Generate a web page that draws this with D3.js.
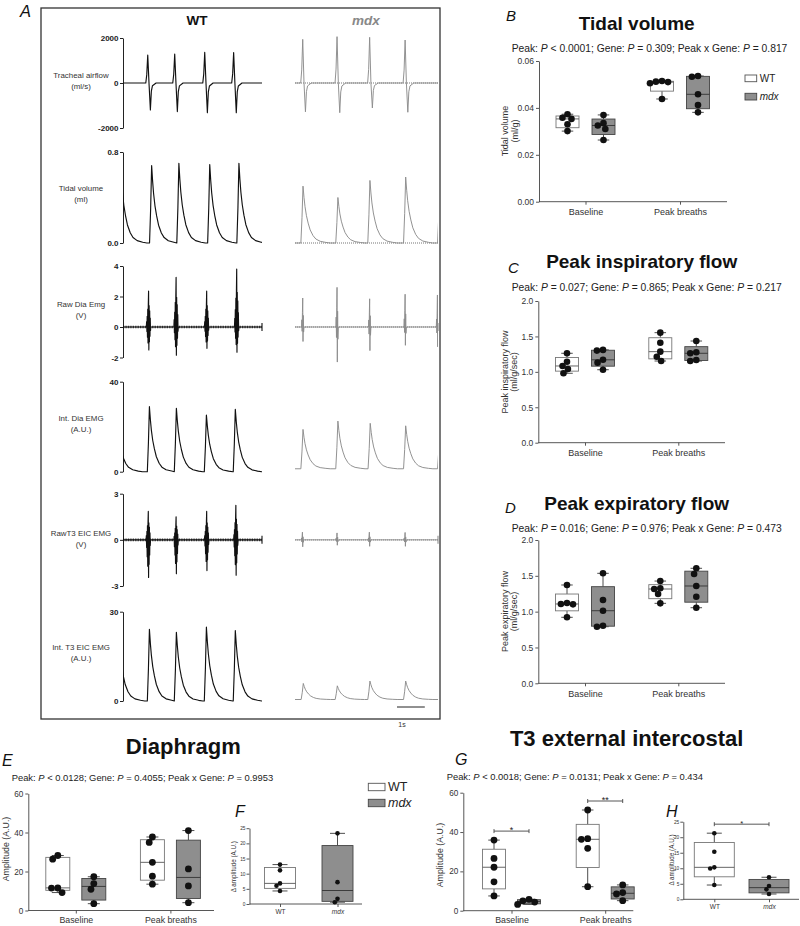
<!DOCTYPE html>
<html>
<head>
<meta charset="utf-8">
<script src="https://cdn.jsdelivr.net/npm/d3@7/dist/d3.min.js"></script>
<style>
  body { margin: 0; background: #fff; }
  svg { display: block; }
  text { white-space: pre; }
</style>
</head>
<body>
<svg id="figure" width="800" height="926"></svg>
<script>
// ---------- Panel A: recorded traces (event time in s, peak value in trace units) ----------
const wtFlowT = [0.89, 1.86, 2.94, 3.98];
const wtFlowUp = [1240, 1290, 1360, 1350];
const wtFlowDown = [-1200, -1270, -1320, -1320];
const wtVolT = [-0.09, 1.03, 2.01, 3.12, 4.17];
const wtVol = [0.69, 0.68, 0.70, 0.69, 0.70];
const wtRawDiaT = [0.92, 1.91, 3.01, 4.09];
const wtRawDiaUp = [2.35, 3.25, 2.35, 3.8];
const wtRawDiaDown = [-1.5, -1.85, -1.4, -1.65];
const wtIntDiaT = [-0.25, 0.95, 1.92, 3.0, 4.04];
const wtIntDia = [28, 28.9, 28.2, 25.2, 27.7];
const wtRawEicT = [0.91, 1.91, 3.01, 4.06];
const wtRawEicUp = [1.85, 1.5, 1.85, 2.25];
const wtRawEicDown = [-2.45, -2.2, -2.0, -2.3];
const wtIntEicT = [-0.17, 0.95, 1.92, 3.0, 4.04];
const wtIntEic = [24, 24.1, 23.1, 24.8, 23.7];

const mdxFlowT = [0.27, 1.47, 2.61, 3.85];
const mdxFlowUp = [1940, 2060, 2030, 1910];
const mdxFlowDown = [-1280, -1320, -1110, -1300];
const mdxVolT = [0.28, 1.50, 2.62, 3.87, 5.06];
const mdxVol = [0.50, 0.40, 0.55, 0.58, 0.50];
const mdxRawDiaT = [0.27, 1.47, 2.61, 3.85, 4.98];
const mdxRawDiaUp = [1.9, 2.6, 1.85, 2.15, 2.1];
const mdxRawDiaDown = [-0.95, -2.3, -1.55, -1.2, -1.3];
const mdxIntDiaT = [0.28, 1.50, 2.63, 3.87, 5.06];
const mdxIntDia = [17.5, 21.2, 20.2, 19.1, 17];   // above a 1.3 baseline
const mdxRawEicT = [0.26, 1.47, 2.60, 3.85];
const mdxRawEicUp = [0.5, 0.45, 0.5, 0.48];
const mdxRawEicDown = [-0.45, -0.35, -0.42, -0.42];
const mdxIntEicT = [0.29, 1.48, 2.62, 3.87];
const mdxIntEic = [5.4, 4.6, 6.2, 6.2];          // above a 0.5 baseline

// single-breath shapes: [s from peak, share of up peak, share of down peak]
const flowShape = [[-0.07,0,0],[-0.035,0.3,0],[0,1,0],[0.045,0,0],[0.095,0,1],[0.13,0,0.3],[0.17,0,0.1],[0.3,0,0]];
const slowShape = [[-0.075,0,0],[-0.035,0.45,0],[0,1,0],[0.035,0.8,0],[0.07,0.64,0],[0.12,0.48,0],[0.18,0.35,0],
  [0.25,0.23,0],[0.35,0.13,0],[0.45,0.07,0],[0.6,0.03,0],[0.8,0.01,0],[0.95,0,0]];
const burstShape = [[-0.08,0,0],[-0.07,0.15,0],[-0.06,0,0.2],[-0.05,0.3,0],[-0.04,0,0.45],[-0.03,0.5,0],[-0.02,0,0.7],
  [-0.01,0.62,0],[0,1,0],[0.01,0,1],[0.02,0.6,0],[0.03,0,0.65],[0.04,0.45,0],[0.05,0,0.4],[0.06,0.25,0],[0.07,0,0.15],[0.08,0,0]];
const spikeShape = [[-0.04,0,0],[-0.03,0.25,0],[-0.02,0,0.3],[-0.01,0.5,0],[0,1,0],[0.01,0,1],[0.02,0.4,0],[0.03,0,0.35],[0.045,0,0]];

// ---------- Panels B-H: individual animals ----------
const conditions = ["Baseline", "Peak breaths"];
const genotypes = ["WT", "mdx"];

const tvWT = [[0.0373, 0.0358, 0.0353, 0.0330, 0.0301], [0.0515, 0.0512, 0.0510, 0.0505, 0.0438]];
const tvMdx = [[0.0370, 0.0335, 0.0325, 0.0310, 0.0263], [0.0536, 0.0533, 0.0458, 0.0412, 0.0381]];
const pifWT = [[1.262, 1.143, 1.083, 1.04, 0.98], [1.553, 1.41, 1.285, 1.214, 1.153]];
const pifMdx = [[1.31, 1.30, 1.17, 1.13, 1.03], [1.435, 1.276, 1.262, 1.167, 1.153]];
const pefWT = [[1.372, 1.12, 1.107, 1.102, 0.921], [1.427, 1.326, 1.316, 1.246, 1.116]];
const pefMdx = [[1.535, 1.162, 1.013, 0.804, 0.79], [1.605, 1.525, 1.358, 1.209, 1.055]];
const diaWT = [[28.2, 26.3, 11.6, 11.5, 9.2], [37.7, 34.9, 24.7, 17.6, 13.5]];
const diaMdx = [[17.3, 13.8, 10.9, 3.5], [41, 21.3, 12.6, 4.0]];
const diaDeltaWT = [13.0, 11.1, 6.8, 6.0, 4.3];
const diaDeltaMdx = [23.3, 7.2, 1.7, 0.6];
const eicWT = [[35.9, 26.6, 22.1, 14.7, 7.5], [51.2, 36.6, 36.3, 31.7, 12.2]];
const eicMdx = [[5.8, 5.0, 4.4, 3.2], [13.1, 9.2, 8.5, 5.1]];
const eicDeltaWT = [21.3, 15.3, 10.3, 9.9, 4.6];
const eicDeltaMdx = [7.1, 4.3, 3.2, 1.7];

const tvStats = ["< 0.0001", "= 0.309", "= 0.817"];
const pifStats = ["= 0.027", "= 0.865", "= 0.217"];
const pefStats = ["= 0.016", "= 0.976", "= 0.473"];
const diaStats = ["< 0.0128", "= 0.4055", "= 0.9953"];
const eicStats = ["< 0.0018", "= 0.0131", "= 0.434"];
const eicStars = ["*", "**"];
const eicDeltaStar = "*";

// ---------------------------------------------------------------
const svg = d3.select("#figure");
const font = '"Liberation Sans", Arial, Helvetica, sans-serif';
svg.attr("font-family", font);

function label(x, y, text, size, o = {}) {
  return svg.append("text").attr("x", x).attr("y", y).attr("font-size", size)
    .attr("text-anchor", o.anchor || "start")
    .attr("font-weight", o.weight || "normal")
    .attr("font-style", o.style || "normal")
    .attr("fill", o.fill || "#111")
    .attr("transform", o.rotate ? `rotate(-90,${x},${y})` : null)
    .text(text);
}

function statsLine(x, y, size, vals, anchor) {
  const t = svg.append("text").attr("x", x).attr("y", y).attr("font-size", size)
    .attr("fill", "#222").attr("text-anchor", anchor);
  ["Peak: ", "Gene: ", "Peak x Gene: "].forEach((name, i) => {
    t.append("tspan").text(name);
    t.append("tspan").attr("font-style", "italic").text("P");
    t.append("tspan").text(" " + vals[i] + (i < 2 ? "; " : ""));
  });
}

function styleAxis(a, size) {
  a.attr("font-family", font).attr("font-size", size);
  a.selectAll(".domain, .tick line").attr("stroke", "#444").attr("stroke-width", 0.9);
  a.selectAll(".tick text").attr("fill", "#333");
}

// ---------- Panel A ----------
svg.append("rect").attr("x", 41).attr("y", 8).attr("width", 399).attr("height", 711)
  .attr("fill", "none").attr("stroke", "#333").attr("stroke-width", 1.3);
label(20, 17, "A", 16.5, {style: "italic"});
label(197, 25, "WT", 13.5, {anchor: "middle", weight: "bold"});
label(366, 25, "mdx", 13.5, {anchor: "middle", weight: "bold", style: "italic", fill: "#888"});

const xWT = d3.scaleLinear().domain([0, 5]).range([123, 262]);
const xMdx = d3.scaleLinear().domain([0, 5]).range([295, 438]);

const defs = svg.append("defs");
defs.append("clipPath").attr("id", "clipWT").append("rect")
  .attr("x", xWT(0)).attr("y", 0).attr("width", xWT(5) - xWT(0)).attr("height", 926);
defs.append("clipPath").attr("id", "clipMdx").append("rect")
  .attr("x", xMdx(0)).attr("y", 0).attr("width", xMdx(5) - xMdx(0)).attr("height", 926);

function tracePoints(times, ups, downs, shape, base) {
  let pts = [[-1, base]];
  times.forEach((t0, i) => {
    let next = i < times.length - 1 ? times[i + 1] + shape[0][0] : Infinity;
    shape.forEach(r => {
      let t = t0 + r[0];
      if (t >= next) return;
      pts.push([t, base + r[1] * ups[i] + (downs ? r[2] * downs[i] : 0)]);
    });
  });
  pts.push([6, base]);
  return pts;
}

const traceRows = [
  {name: ["Tracheal airflow", "(ml/s)"], ly: 78, domain: [-2000, 2000], range: [128, 38], ticks: [-2000, 0, 2000], fmt: d => String(d),
   wt: [wtFlowT, wtFlowUp, wtFlowDown, flowShape, 0], mdx: [mdxFlowT, mdxFlowUp, mdxFlowDown, flowShape, 0], kind: "flow"},
  {name: ["Tidal volume", "(ml)"], ly: 191, domain: [0, 0.8], range: [243, 152], ticks: [0, 0.8], fmt: d => d.toFixed(1),
   wt: [wtVolT, wtVol, null, slowShape, 0], mdx: [mdxVolT, mdxVol, null, slowShape, 0], kind: "flow"},
  {name: ["Raw Dia Emg", "(V)"], ly: 307, domain: [-2, 4], range: [357.5, 266], ticks: [-2, 0, 2, 4], fmt: d => String(d),
   wt: [wtRawDiaT, wtRawDiaUp, wtRawDiaDown, burstShape, 0], mdx: [mdxRawDiaT, mdxRawDiaUp, mdxRawDiaDown, spikeShape, 0], kind: "raw"},
  {name: ["Int. Dia EMG", "(A.U.)"], ly: 421, domain: [0, 40], range: [471.7, 381.7], ticks: [0, 40], fmt: d => String(d),
   wt: [wtIntDiaT, wtIntDia, null, slowShape, 0], mdx: [mdxIntDiaT, mdxIntDia, null, slowShape, 1.3], kind: "int"},
  {name: ["RawT3 EIC EMG", "(V)"], ly: 536, domain: [-3, 3], range: [586, 493.7], ticks: [-3, 0, 3], fmt: d => String(d),
   wt: [wtRawEicT, wtRawEicUp, wtRawEicDown, burstShape, 0], mdx: [mdxRawEicT, mdxRawEicUp, mdxRawEicDown, spikeShape, 0], kind: "raw"},
  {name: ["Int. T3 EIC EMG", "(A.U.)"], ly: 650, domain: [0, 30], range: [701, 611.7], ticks: [0, 30], fmt: d => String(d),
   wt: [wtIntEicT, wtIntEic, null, slowShape, 0], mdx: [mdxIntEicT, mdxIntEic, null, slowShape, 0.5], kind: "int"}
];

traceRows.forEach(row => {
  let y = d3.scaleLinear().domain(row.domain).range(row.range);

  svg.append("g").attr("transform", "translate(123,0)")
    .call(d3.axisLeft(y).tickValues(row.ticks).tickSize(3).tickSizeOuter(0).tickPadding(1.5).tickFormat(row.fmt))
    .call(a => {
      styleAxis(a, 8);
      a.selectAll(".domain, .tick line").attr("stroke", "#222").attr("stroke-width", 1);
      a.selectAll(".tick text").attr("font-weight", "bold").attr("fill", "#222");
    });

  label(81, row.ly, row.name[0], 7.9, {anchor: "middle", fill: "#333"});
  label(81, row.ly + 11, row.name[1], 7.9, {anchor: "middle", fill: "#333"});

  [[row.wt, xWT, "#111", "clipWT", 0], [row.mdx, xMdx, "#8c8c8c", "clipMdx", 1]].forEach(([d, x, color, clip, k]) => {
    let pts = tracePoints(d[0], d[1], d[2], d[3], d[4]);
    let line = d3.line().x(p => x(p[0])).y(p => y(p[1]));

    // ripple on the baseline (heartbeat / noise texture)
    if (row.kind === "raw" || (k === 1 && row.kind === "flow")) {
      svg.append("line")
        .attr("x1", x(0)).attr("x2", x(5)).attr("y1", y(d[4])).attr("y2", y(d[4]))
        .attr("stroke", color).attr("stroke-width", k ? 1.8 : 2.6)
        .attr("stroke-dasharray", k ? "0.6 1.4" : "0.8 0.9");
    }

    svg.append("path")
      .attr("d", line(pts))
      .attr("fill", "none")
      .attr("stroke", color)
      .attr("stroke-width", k ? 0.95 : 1.15)
      .attr("stroke-linejoin", "round")
      .attr("clip-path", `url(#${clip})`);

    if (row.kind === "raw") {
      svg.append("line").attr("x1", x(5)).attr("x2", x(5))
        .attr("y1", y(d[4]) - 4).attr("y2", y(d[4]) + 4)
        .attr("stroke", color).attr("stroke-width", 1.1);
    }
  });
});

// 1 s scale bar
svg.append("line").attr("x1", 397).attr("x2", 397 + xWT(1) - xWT(0)).attr("y1", 707).attr("y2", 707)
  .attr("stroke", "#222").attr("stroke-width", 1);
label(402, 727, "1s", 7, {anchor: "middle", fill: "#333"});

// ---------- box plot helpers ----------
function gpQuantile(s, p) {
  let n = s.length, h = (n + 1) * p;
  if (h <= 1) return s[0];
  if (h >= n) return s[n - 1];
  let lo = Math.floor(h);
  return s[lo - 1] + (h - lo) * (s[lo] - s[lo - 1]);
}

function dodge(ys, r) {
  let placed = [];
  return ys.map(yv => {
    let blocks = placed.filter(p => Math.abs(p.y - yv) < 2 * r).map(p => {
      let w = Math.sqrt(4 * r * r - (p.y - yv) ** 2);
      return [p.x - w, p.x + w];
    });
    let cands = [0];
    blocks.forEach(b => cands.push(b[0], b[1]));
    cands.sort((a, b) => Math.abs(a) - Math.abs(b));
    let xv = cands.find(c => blocks.every(b => c <= b[0] + 1e-6 || c >= b[1] - 1e-6));
    placed.push({x: xv, y: yv});
    return xv;
  });
}

function drawBox(g, cx, values, y, bw, r, wt) {
  let s = values.slice().sort(d3.ascending);
  let q1 = gpQuantile(s, 0.25), med = gpQuantile(s, 0.5), q3 = gpQuantile(s, 0.75);
  let lo = s[0], hi = s[s.length - 1];
  let cap = Math.min(bw * 0.5, 15);
  let dark = "#3a3a3a";

  g.append("path")
    .attr("d", `M${cx},${y(hi)}V${y(q3)}M${cx},${y(q1)}V${y(lo)}` +
      `M${cx - cap / 2},${y(hi)}H${cx + cap / 2}M${cx - cap / 2},${y(lo)}H${cx + cap / 2}`)
    .attr("stroke", dark).attr("stroke-width", 0.9).attr("fill", "none");

  g.append("rect")
    .attr("x", cx - bw / 2).attr("y", y(q3))
    .attr("width", bw).attr("height", Math.max(0.5, y(q1) - y(q3)))
    .attr("fill", wt ? "#fff" : "#8e8e8e")
    .attr("stroke", wt ? "#777" : "#444").attr("stroke-width", 0.9);

  g.append("line").attr("x1", cx - bw / 2).attr("x2", cx + bw / 2).attr("y1", y(med)).attr("y2", y(med))
    .attr("stroke", wt ? "#555" : "#333").attr("stroke-width", 0.9);

  let desc = values.slice().sort(d3.descending);
  let offs = dodge(desc.map(v => y(v)), r * 0.93);
  g.selectAll(null).data(desc).join("circle")
    .attr("cx", (v, i) => cx + offs[i])
    .attr("cy", v => y(v))
    .attr("r", r)
    .attr("fill", "#111");
}

function boxPanel(o) {
  let y = d3.scaleLinear().domain(o.domain).range(o.yRange);
  let x = d3.scalePoint().domain(o.cats).range(o.xCenters);
  let g = svg.append("g");

  g.append("g").attr("transform", `translate(${o.x0},0)`)
    .call(d3.axisLeft(y).tickValues(o.ticks).tickSize(3).tickSizeOuter(0).tickPadding(o.yPad || 2).tickFormat(o.fmt))
    .call(a => styleAxis(a, o.tickFont));

  g.append("line").attr("x1", o.x0).attr("x2", o.x1).attr("y1", y(o.domain[0])).attr("y2", y(o.domain[0]))
    .attr("stroke", "#444").attr("stroke-width", 0.9);

  g.append("g").attr("transform", `translate(0,${y(o.domain[0])})`)
    .call(d3.axisBottom(x).tickSize(3).tickSizeOuter(0).tickPadding(o.xPad))
    .call(a => {
      a.select(".domain").remove();
      styleAxis(a, o.catFont);
      a.selectAll(".tick text").attr("font-style", d => d === "mdx" ? "italic" : "normal");
    });

  o.groups.forEach(gr => drawBox(g, x(gr.cat) + gr.dx, gr.values, y, o.bw, o.r, gr.wt));
  return {x, y, g};
}

function pairGroups(wtArr, mdxArr, dx) {
  let out = [];
  conditions.forEach((c, i) => {
    out.push({cat: c, dx: -dx, values: wtArr[i], wt: true});
    out.push({cat: c, dx: dx, values: mdxArr[i], wt: false});
  });
  return out;
}

function yLabel(x, y, lines, size, gap) {
  lines.forEach((t, i) => label(x + i * gap, y, t, size, {anchor: "middle", rotate: true, fill: "#333"}));
}

function bracket(g, xa, xb, yy, text, size) {
  g.append("path")
    .attr("d", `M${xa},${yy - 2}V${yy + 2}M${xa},${yy}H${xb}M${xb},${yy - 2}V${yy + 2}`)
    .attr("stroke", "#444").attr("stroke-width", 0.9).attr("fill", "none");
  g.append("text").attr("x", (xa + xb) / 2).attr("y", yy + size * 0.2)
    .attr("text-anchor", "middle").attr("font-size", size).attr("fill", "#222").text(text);
}

function legend(x, y, gap, size, w, h) {
  genotypes.forEach((gname, i) => {
    svg.append("rect").attr("x", x).attr("y", y + i * gap).attr("width", w).attr("height", h)
      .attr("fill", i ? "#8e8e8e" : "#fff").attr("stroke", i ? "#444" : "#555").attr("stroke-width", 0.9);
    label(x + w + 3, y + i * gap + h / 2 + size * 0.35, gname, size, {style: i ? "italic" : "normal", fill: "#222"});
  });
}

// ---------- Panel B ----------
label(506, 21, "B", 15, {style: "italic"});
label(636.7, 30, "Tidal volume", 19, {anchor: "middle", weight: "bold"});
statsLine(649.5, 52, 10.3, tvStats, "middle");
boxPanel({domain: [0, 0.06], yRange: [201.7, 61], x0: 539, x1: 727, cats: conditions, xCenters: [585.5, 680],
  ticks: [0, 0.02, 0.04, 0.06], fmt: d3.format(".2f"), tickFont: 8.5, catFont: 9, xPad: 4,
  bw: 23, r: 3.3, groups: pairGroups(tvWT, tvMdx, 18)});
yLabel(508, 131, ["Tidal volume", "(ml/g)"], 9, 9.5);
legend(745, 75, 18.3, 10, 11.7, 6.7);

// ---------- Panel C ----------
label(508, 273, "C", 15, {style: "italic"});
label(641.7, 268, "Peak inspiratory flow", 19, {anchor: "middle", weight: "bold"});
statsLine(646.7, 291, 10.3, pifStats, "middle");
boxPanel({domain: [0, 2], yRange: [442.7, 301], x0: 538.3, x1: 725, cats: conditions, xCenters: [585, 678.3],
  ticks: [0, 0.5, 1, 1.5, 2], fmt: d3.format(".1f"), tickFont: 8.5, catFont: 9, xPad: 4,
  bw: 23, r: 3.3, groups: pairGroups(pifWT, pifMdx, 18)});
yLabel(507.5, 372, ["Peak inspiratory flow", "(ml/g/sec)"], 9, 9.5);

// ---------- Panel D ----------
label(505, 513, "D", 15, {style: "italic"});
label(636.7, 509.5, "Peak expiratory flow", 19, {anchor: "middle", weight: "bold"});
statsLine(646.7, 532, 10.3, pefStats, "middle");
boxPanel({domain: [0, 2], yRange: [683.3, 540], x0: 538.3, x1: 725, cats: conditions, xCenters: [585, 678.3],
  ticks: [0, 0.5, 1, 1.5, 2], fmt: d3.format(".1f"), tickFont: 8.5, catFont: 9, xPad: 4,
  bw: 23, r: 3.3, groups: pairGroups(pefWT, pefMdx, 18)});
yLabel(507.5, 611.5, ["Peak expiratory flow", "(ml/g/sec)"], 9, 9.5);

// ---------- Panel E ----------
label(2, 766, "E", 16, {style: "italic"});
label(183.3, 754, "Diaphragm", 22, {anchor: "middle", weight: "bold"});
statsLine(11.7, 780.5, 9.4, diaStats, "start");
boxPanel({domain: [0, 60], yRange: [910.5, 793.5], x0: 28.3, x1: 214, cats: conditions, xCenters: [75.8, 170.4],
  ticks: [0, 20, 40, 60], fmt: d3.format("d"), tickFont: 8.2, catFont: 8.8, xPad: 3,
  bw: 24, r: 3.4, groups: pairGroups(diaWT, diaMdx, 18)});
yLabel(8.5, 849, ["Amplitude (A.U.)"], 8.8, 0);
legend(368.3, 783.3, 16, 12.5, 16.7, 7.4);

// ---------- Panel F ----------
label(235, 817, "F", 16, {style: "italic"});
boxPanel({domain: [0, 25], yRange: [904, 828.2], x0: 249.5, x1: 362, cats: genotypes, xCenters: [280, 337.5],
  ticks: [0, 5, 10, 15, 20, 25], fmt: d3.format("d"), tickFont: 4.8, catFont: 6.5, xPad: 2, yPad: 1,
  bw: 31, r: 2.3, groups: [{cat: "WT", dx: 0, values: diaDeltaWT, wt: true}, {cat: "mdx", dx: 0, values: diaDeltaMdx, wt: false}]});
yLabel(236, 866.7, ["\u0394 amplitude (A.U.)"], 6.3, 0);

// ---------- Panel G ----------
label(455, 765, "G", 16, {style: "italic"});
label(626.7, 746, "T3 external intercostal", 22, {anchor: "middle", weight: "bold"});
statsLine(446.7, 780, 9.4, eicStats, "start");
let pG = boxPanel({domain: [0, 60], yRange: [910.7, 792.7], x0: 463.3, x1: 633.3, cats: conditions, xCenters: [511.5, 605.2],
  ticks: [0, 20, 40, 60], fmt: d3.format("d"), tickFont: 8.2, catFont: 8.8, xPad: 3,
  bw: 23, r: 3.4, groups: pairGroups(eicWT, eicMdx, 17.5)});
conditions.forEach((c, i) => {
  let top = pG.y(d3.max(eicWT[i].concat(eicMdx[i]))) - 9;
  bracket(pG.g, pG.x(c) - 17.5, pG.x(c) + 17.5, top, eicStars[i], 9);
});
yLabel(443, 855, ["Amplitude (A.U.)"], 8.8, 0);

// ---------- Panel H ----------
label(666, 817, "H", 16, {style: "italic"});
let pH = boxPanel({domain: [0, 25], yRange: [899.3, 821.7], x0: 683.3, x1: 799, cats: genotypes, xCenters: [714.3, 769],
  ticks: [0, 5, 10, 15, 20, 25], fmt: d3.format("d"), tickFont: 4.8, catFont: 6.5, xPad: 2, yPad: 1,
  bw: 40, r: 2.3, groups: [{cat: "WT", dx: 0, values: eicDeltaWT, wt: true}, {cat: "mdx", dx: 0, values: eicDeltaMdx, wt: false}]});
bracket(pH.g, pH.x("WT"), pH.x("mdx"), pH.y(d3.max(eicDeltaWT)) - 9, eicDeltaStar, 7.5);
yLabel(674, 860, ["\u0394 amplitude (A.U.)"], 6.3, 0);
</script>
</body>
</html>
